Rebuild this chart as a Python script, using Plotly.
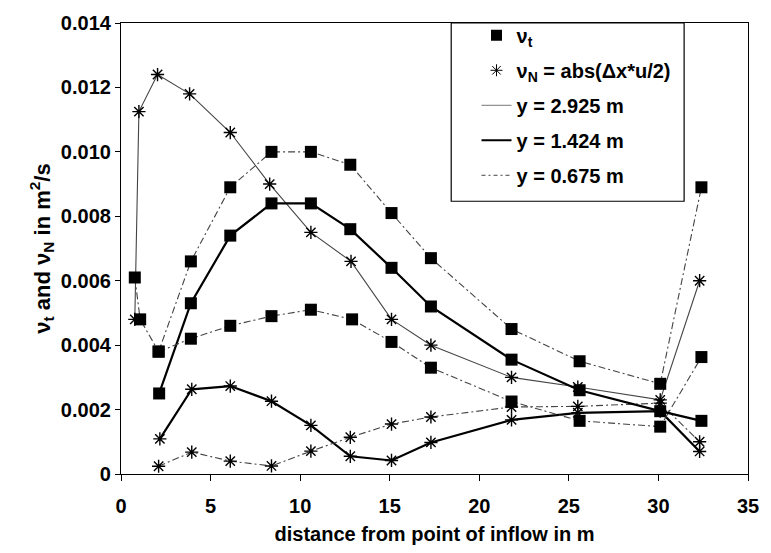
import plotly.graph_objects as go

# ---------------- data ----------------
# nu_t (turbulent viscosity), three lateral positions
x_vt_top = [0.77, 1.07, 2.1, 3.9, 6.1, 8.4, 10.6, 12.8, 15.1, 17.3, 21.8, 25.6, 30.1, 32.4]
vt_top   = [0.0061, 0.0048, 0.0038, 0.0066, 0.0089, 0.0100, 0.0100, 0.0096, 0.0081, 0.0067, 0.0045, 0.0035, 0.0028, 0.0089]

x_vt_mid = [2.13, 3.9, 6.1, 8.4, 10.6, 12.8, 15.1, 17.3, 21.8, 25.6, 30.1, 32.4]
vt_mid   = [0.0025, 0.0053, 0.0074, 0.0084, 0.0084, 0.0076, 0.0064, 0.0052, 0.00355, 0.0026, 0.00195, 0.00165]

x_vt_low = [2.1, 3.9, 6.1, 8.4, 10.6, 12.9, 15.1, 17.3, 21.8, 25.6, 30.1, 32.4]
vt_low   = [0.0038, 0.0042, 0.0046, 0.0049, 0.0051, 0.0048, 0.0041, 0.0033, 0.00225, 0.00165, 0.00147, 0.00363]

# nu_N = abs(dx*u/2), three lateral positions
x_vn_top = [0.77, 1.0, 2.04, 3.83, 6.1, 8.3, 10.6, 12.84, 15.1, 17.3, 21.8, 25.5, 30.1, 32.3]
vn_top   = [0.0048, 0.01125, 0.0124, 0.0118, 0.0106, 0.0090, 0.0075, 0.0066, 0.0048, 0.0040, 0.0030, 0.0027, 0.0023, 0.0060]

x_vn_mid = [2.17, 3.95, 6.1, 8.4, 10.6, 12.8, 15.1, 17.3, 21.8, 25.5, 30.1, 32.3]
vn_mid   = [0.00109, 0.00263, 0.00273, 0.00226, 0.00151, 0.00055, 0.00042, 0.00098, 0.00168, 0.0019, 0.00195, 0.0007]

x_vn_low = [2.1, 3.95, 6.1, 8.4, 10.6, 12.8, 15.1, 17.3, 21.8, 25.5, 30.1, 32.3]
vn_low   = [0.00024, 0.00068, 0.0004, 0.00025, 0.00071, 0.00114, 0.00155, 0.00177, 0.00208, 0.0021, 0.0022, 0.0010]

x_ticks = [0, 5, 10, 15, 20, 25, 30, 35]
y_ticks = [0, 0.002, 0.004, 0.006, 0.008, 0.010, 0.012, 0.014]
y_tick_labels = ["0", "0.002", "0.004", "0.006", "0.008", "0.010", "0.012", "0.014"]

legend_names = ["ν<sub>t</sub>", "ν<sub>N</sub> = abs(Δx*u/2)", "y = 2.925 m", "y = 1.424 m", "y = 0.675 m"]

# ---------------- styles ----------------
FONT = "Liberation Sans, Arial, Helvetica, sans-serif"
style_top = dict(color="#444444", width=1.1, dash="solid")
style_top_sq = dict(color="#444444", width=1.1, dash="7px,3px,2px,3px")
style_mid = dict(color="#000000", width=2.2, dash="solid")
style_low = dict(color="#444444", width=1.1, dash="7px,3px,2px,3px")

sq = dict(symbol="square", size=12, color="black", line=dict(width=0))
st = dict(symbol="asterisk", size=11, color="black", line=dict(width=1.4, color="black"))

fig = go.Figure()

def add(xs, ys, line, marker):
    fig.add_trace(go.Scatter(x=xs, y=ys, mode="lines+markers", line=line,
                             marker=marker, showlegend=False, hoverinfo="skip"))

add(x_vn_top, vn_top, style_top, st)
add(x_vn_mid, vn_mid, style_mid, st)
add(x_vn_low, vn_low, style_low, st)
add(x_vt_top, vt_top, style_top_sq, sq)
add(x_vt_mid, vt_mid, style_mid, sq)
add(x_vt_low, vt_low, style_low, sq)

# legend-only entries
leg_specs = [
    dict(mode="markers", marker=dict(symbol="square", size=11, color="black")),
    dict(mode="markers", marker=dict(symbol="asterisk", size=10, color="black", line=dict(width=1, color="black"))),
    dict(mode="lines", line=dict(color="#777777", width=1)),
    dict(mode="lines", line=dict(color="black", width=2)),
    dict(mode="lines", line=dict(color="#444444", width=1, dash="4px,3px,2px,3px")),
]
for i, (name, spec) in enumerate(zip(legend_names, leg_specs)):
    fig.add_trace(go.Scatter(x=[None], y=[None], name=name, legendgroup=f"g{i}", **spec))

TS = 20
fig.update_layout(
    width=771, height=553,
    margin=dict(l=121, r=12, t=19, b=76),
    paper_bgcolor="white", plot_bgcolor="white",
    font=dict(family=FONT, size=TS, color="black"),
    showlegend=True,
    legend=dict(x=0.567, y=1.016, xanchor="left", yanchor="top",
                bgcolor="rgba(0,0,0,0)", borderwidth=0,
                font=dict(family=FONT, size=TS, color="black", weight="bold"),
                tracegroupgap=6, itemwidth=30),
    shapes=[dict(type="rect", xref="paper", yref="paper",
                 x0=(457 - 121) / 638, x1=(694 - 121) / 638,
                 y0=(477 - 200) / 458, y1=1.0,
                 line=dict(color="black", width=1.2), fillcolor="rgba(0,0,0,0)")],
)

fig.update_xaxes(range=[0, 35], tickvals=x_ticks, showgrid=False, zeroline=False,
                 showline=True, linecolor="black", linewidth=1.2, mirror=True,
                 ticks="outside", ticklen=6, tickcolor="black", ticklabelstandoff=8,
                 tickfont=dict(family=FONT, size=TS, weight="bold"),
                 title=dict(text="distance from point of inflow in m",
                            font=dict(family=FONT, size=TS, weight="bold"), standoff=10))
fig.update_yaxes(range=[0, 0.014], tickvals=y_ticks, ticktext=y_tick_labels,
                 ticksuffix="\u00a0\u00a0",
                 showgrid=False, zeroline=False,
                 showline=True, linecolor="black", linewidth=1.2, mirror=True,
                 ticks="outside", ticklen=5, tickcolor="black",
                 tickfont=dict(family=FONT, size=TS, weight="bold"),
                 title=dict(text="ν<sub>t</sub> and ν<sub>N</sub> in m<sup>2</sup>/s",
                            font=dict(family=FONT, size=22, weight="bold"), standoff=4))

fig.write_html("out.html")
